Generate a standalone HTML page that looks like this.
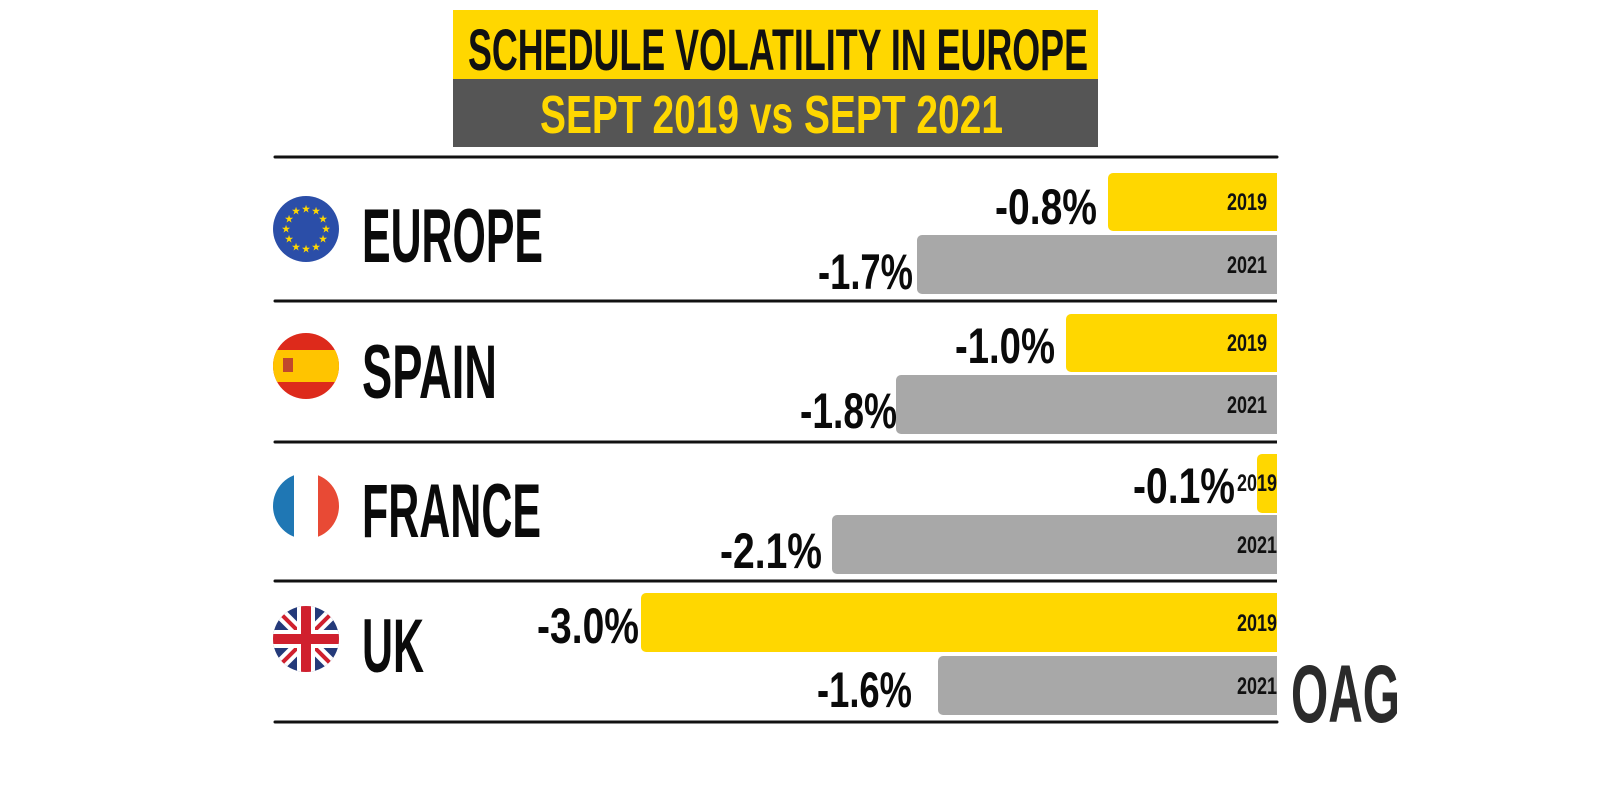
<!DOCTYPE html>
<html><head><meta charset="utf-8"><style>
html,body{margin:0;padding:0;background:#fff;width:1600px;height:800px;overflow:hidden}
text{font-family:"Liberation Sans Narrow","Liberation Sans",sans-serif;font-weight:bold}
</style></head><body>
<svg width="1600" height="800" viewBox="0 0 1600 800" xmlns="http://www.w3.org/2000/svg">
<rect x="453" y="10" width="645" height="69" fill="#ffd700"/>
<rect x="453" y="79" width="645" height="68" fill="#555555"/>
<text x="468" y="70" font-size="58" textLength="620" lengthAdjust="spacingAndGlyphs" fill="#111">SCHEDULE VOLATILITY IN EUROPE</text>
<text x="540" y="133" font-size="54" textLength="463" lengthAdjust="spacingAndGlyphs" fill="#ffd700">SEPT 2019 vs SEPT 2021</text>
<g stroke="#111" stroke-width="3" stroke-linecap="round">
<line x1="275" y1="157" x2="1277" y2="157"/><line x1="275" y1="301" x2="1277" y2="301"/>
<line x1="275" y1="442" x2="1277" y2="442"/><line x1="275" y1="581" x2="1277" y2="581"/>
<line x1="275" y1="722" x2="1277" y2="722"/></g>
<g fill="#ffd700">
<rect x="1108" y="173" width="175" height="58" rx="5"/><rect x="1066" y="314" width="217" height="58" rx="5"/>
<rect x="1257" y="454" width="26" height="59" rx="5"/><rect x="641" y="593" width="642" height="59" rx="5"/></g>
<g fill="#a8a8a8">
<rect x="917" y="235" width="366" height="59" rx="5"/><rect x="896" y="375" width="387" height="59" rx="5"/>
<rect x="832" y="515" width="451" height="59" rx="5"/><rect x="938" y="656" width="345" height="59" rx="5"/></g>
<rect x="1277" y="160" width="10" height="560" fill="#fff"/>
<g font-size="24" fill="#111">
<text x="1227" y="210" textLength="40" lengthAdjust="spacingAndGlyphs">2019</text><text x="1227" y="273" textLength="40" lengthAdjust="spacingAndGlyphs">2021</text>
<text x="1227" y="351" textLength="40" lengthAdjust="spacingAndGlyphs">2019</text><text x="1227" y="413" textLength="40" lengthAdjust="spacingAndGlyphs">2021</text>
<text x="1237" y="491" textLength="40" lengthAdjust="spacingAndGlyphs">2019</text><text x="1237" y="553" textLength="40" lengthAdjust="spacingAndGlyphs">2021</text>
<text x="1237" y="631" textLength="40" lengthAdjust="spacingAndGlyphs">2019</text><text x="1237" y="694" textLength="40" lengthAdjust="spacingAndGlyphs">2021</text></g>
<g font-size="50" fill="#0a0a0a">
<text x="995" y="224" textLength="102" lengthAdjust="spacingAndGlyphs">-0.8%</text>
<text x="818" y="289" textLength="95" lengthAdjust="spacingAndGlyphs">-1.7%</text>
<text x="955" y="363" textLength="100" lengthAdjust="spacingAndGlyphs">-1.0%</text>
<text x="800" y="428" textLength="97" lengthAdjust="spacingAndGlyphs">-1.8%</text>
<text x="1133" y="503" textLength="102" lengthAdjust="spacingAndGlyphs">-0.1%</text>
<text x="720" y="568" textLength="102" lengthAdjust="spacingAndGlyphs">-2.1%</text>
<text x="537" y="643" textLength="102" lengthAdjust="spacingAndGlyphs">-3.0%</text>
<text x="817" y="707" textLength="95" lengthAdjust="spacingAndGlyphs">-1.6%</text></g>
<g font-size="76" fill="#0a0a0a">
<text x="362" y="262" textLength="181" lengthAdjust="spacingAndGlyphs">EUROPE</text>
<text x="362" y="398" textLength="135" lengthAdjust="spacingAndGlyphs">SPAIN</text>
<text x="362" y="537" textLength="179" lengthAdjust="spacingAndGlyphs">FRANCE</text>
<text x="362" y="672" textLength="62" lengthAdjust="spacingAndGlyphs">UK</text></g>
<text x="1291" y="722" font-size="82" fill="#2b2b2b" textLength="109" lengthAdjust="spacingAndGlyphs">OAG</text>
<defs><clipPath id="c2"><circle cx="306" cy="366" r="33"/></clipPath>
<clipPath id="c3"><circle cx="306" cy="506" r="33"/></clipPath>
<clipPath id="c4"><circle cx="306" cy="639" r="33"/></clipPath></defs>
<circle cx="306" cy="229" r="33" fill="#2b4ea8"/>
<g fill="#ffd700" font-size="9" text-anchor="middle" font-family="DejaVu Sans">
<text x="306" y="212">★</text><text x="306" y="252">★</text><text x="286" y="232">★</text><text x="326" y="232">★</text>
<text x="296" y="214">★</text><text x="316" y="214">★</text><text x="296" y="250">★</text><text x="316" y="250">★</text>
<text x="289" y="222">★</text><text x="323" y="222">★</text><text x="289" y="242">★</text><text x="323" y="242">★</text></g>
<g clip-path="url(#c2)"><rect x="270" y="330" width="72" height="72" fill="#dd2a1b"/><rect x="270" y="350" width="72" height="32" fill="#ffc400"/><rect x="283" y="358" width="10" height="14" fill="#c1482c"/></g>
<g clip-path="url(#c3)"><rect x="270" y="470" width="24" height="72" fill="#1f77b4"/><rect x="294" y="470" width="24" height="72" fill="#fff"/><rect x="318" y="470" width="24" height="72" fill="#e84a35"/></g>
<g clip-path="url(#c4)"><rect x="270" y="603" width="72" height="72" fill="#243a7a"/>
<line x1="270" y1="603" x2="342" y2="675" stroke="#fff" stroke-width="12"/><line x1="342" y1="603" x2="270" y2="675" stroke="#fff" stroke-width="12"/>
<line x1="270" y1="603" x2="342" y2="675" stroke="#d0202e" stroke-width="4"/><line x1="342" y1="603" x2="270" y2="675" stroke="#d0202e" stroke-width="4"/>
<rect x="270" y="630" width="72" height="18" fill="#fff"/><rect x="297" y="603" width="18" height="72" fill="#fff"/>
<rect x="270" y="634" width="72" height="10" fill="#d0202e"/><rect x="301" y="603" width="10" height="72" fill="#d0202e"/></g>
</svg>
</body></html>
